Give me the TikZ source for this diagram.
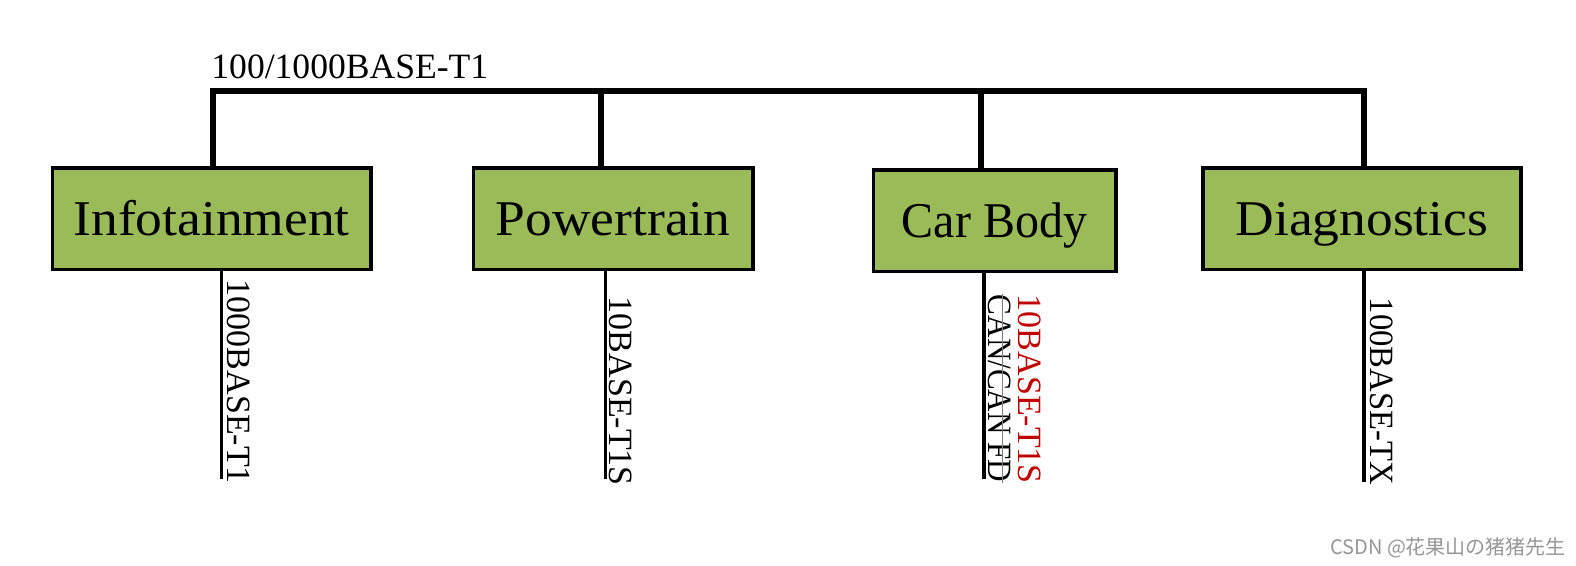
\documentclass[tikz,border=0pt]{standalone}
\usepackage{fontspec}
\setmainfont{Liberation Serif}
\newfontfamily\boxfont[FakeStretch=1.07]{Liberation Serif}
\newfontfamily\boxfontnarrow[FakeStretch=0.96]{Liberation Serif}
\newfontfamily\labnarrow[FakeStretch=0.915]{Liberation Serif}
\newfontfamily\labslight[FakeStretch=0.96]{Liberation Serif}
\newfontfamily\cjkfont{Noto Sans CJK SC}
\usetikzlibrary{calc}
\definecolor{boxgreen}{RGB}{155,187,89}
\definecolor{labred}{RGB}{192,0,0}
\definecolor{wmgray}{RGB}{150,150,150}
\begin{document}
\begin{tikzpicture}[x=0.5pt,y=-0.5pt,
  ecu/.style={draw=black, line width=1.8pt, fill=boxgreen, minimum height=50.75pt, inner sep=0pt,
    text height=16.55pt, text depth=0pt, font=\boxfont\fontsize{25}{30}\selectfont},
  bus/.style={line width=3pt, line join=miter, line cap=rect},
  drop/.style={line width=1.6pt},
  vlab/.style={rotate=-90, anchor=base west, inner sep=0pt, font=\fontsize{17}{20}\selectfont},
  strike/.style={line width=0.5pt, draw=gray},
  wm/.style={anchor=west, inner sep=0pt, text=wmgray, font=\cjkfont\fontsize{10}{12}\selectfont}
]
\useasboundingbox (0,0) rectangle (1576,566);

% ECU boxes
\node[ecu, minimum width=159.3pt] (info) at (211.6,218.7) {Infotainment};
\node[ecu, minimum width=139.7pt] (pt) at (613.1,218.7) {Powertrain};
\node[ecu, minimum width=121.1pt, font=\boxfontnarrow\fontsize{25}{30}\selectfont] (cb) at (994.6,220.7) {Car Body};
\node[ecu, minimum width=158.8pt] (diag) at (1361.9,218.7) {Diagnostics};

% backbone bus
\coordinate (b1) at (213.1,91.5);
\coordinate (b2) at (601,91.5);
\coordinate (b3) at (981,91.5);
\coordinate (b4) at (1363.9,91.5);
\draw[bus] (b1 |- info.north) -- (b1) -- (b4) -- (b4 |- diag.north);
\draw[bus] (b2) -- (b2 |- pt.north);
\draw[bus] (b3) -- (b3 |- cb.north);
\node[anchor=base west, inner sep=0pt, font=\fontsize{17.8}{20}\selectfont] (title) at (211,78.4) {100/1000BASE-T1};

% branch lines
\coordinate (e1) at (221.1,479.5);
\coordinate (e2) at (605.1,479.5);
\coordinate (e3) at (984,479.5);
\coordinate (e4) at (1363.9,482.5);
\draw[drop] (e1 |- info.south) -- (e1);
\draw[drop] (e2 |- pt.south) -- (e2);
\draw[drop] (e3 |- cb.south) -- (e3);
\draw[drop] (e4 |- diag.south) -- (e4);

% branch labels
\node[vlab] (l1) at (227.2,279.5) {1000BASE-T1};
\node[vlab] (l2) at (609.1,296.6) {10BASE-T1S};
\node[vlab, font=\labnarrow\fontsize{17}{20}\selectfont] (l3) at (988,294.5) {CAN/CAN FD};
\node[vlab, text=labred] (l4) at (1018.2,294.5) {10BASE-T1S};
\node[vlab, font=\labslight\fontsize{17}{20}\selectfont] (l5) at (1370,297.6) {100BASE-TX};
\draw[strike] ($(l3.base west)+(14,0)$) -- ($(l3.base east)+(14,0)$);

% watermark
\node[wm] (wmark) at (1329.8,547.9) {CSDN @花果山の猪猪先生};
\end{tikzpicture}
\end{document}
